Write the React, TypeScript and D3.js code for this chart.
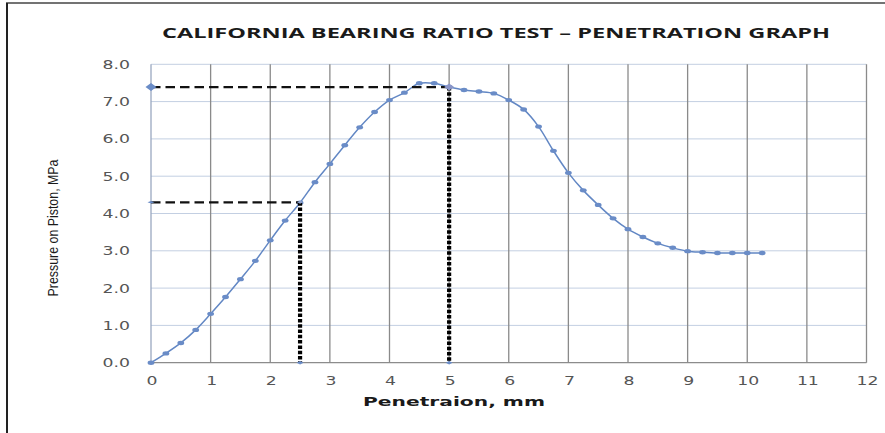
import React from "react";
import * as d3 from "d3";

const penetration = [0, 0.25, 0.5, 0.75, 1.0, 1.25, 1.5, 1.75, 2.0, 2.25, 2.5, 2.75, 3.0, 3.25, 3.5, 3.75, 4.0, 4.25, 4.5, 4.75, 5.0, 5.25, 5.5, 5.75, 6.0, 6.25, 6.5, 6.75, 7.0, 7.25, 7.5, 7.75, 8.0, 8.25, 8.5, 8.75, 9.0, 9.25, 9.5, 9.75, 10.0, 10.25];
const pressure = [0, 0.25, 0.53, 0.88, 1.31, 1.76, 2.24, 2.73, 3.28, 3.81, 4.29, 4.84, 5.33, 5.83, 6.31, 6.72, 7.04, 7.24, 7.49, 7.49, 7.39, 7.31, 7.27, 7.22, 7.04, 6.79, 6.33, 5.68, 5.09, 4.62, 4.23, 3.87, 3.58, 3.37, 3.2, 3.08, 2.99, 2.96, 2.94, 2.94, 2.94, 2.94];

const refPenetration = [2.5, 5.0];
const refPressure = [4.3, 7.39];

const xTicks = [0, 1, 2, 3, 4, 5, 6, 7, 8, 9, 10, 11, 12];
const yTicks = [0, 1, 2, 3, 4, 5, 6, 7, 8];

const title = "CALIFORNIA BEARING RATIO TEST \u2013 PENETRATION GRAPH";
const xTitle = "Penetraion, mm";
const yTitle = "Pressure on Piston, MPa";

const W = 885;
const H = 433;

export default function App() {
  const x = d3.scaleLinear().domain([0, 12]).range([151, 866.5]);
  const y = d3.scaleLinear().domain([0, 8]).range([362.7, 64.3]);

  const data = penetration.map((p, i) => [p, pressure[i]] as [number, number]);
  const line = d3
    .line<[number, number]>()
    .x((d) => x(d[0]))
    .y((d) => y(d[1]))
    .curve(d3.curveCatmullRom.alpha(0.5));

  const blue = "#6287c4";
  const markerColor = "#6a8cc7";

  const diamond = (cx: number, cy: number, w: number, h: number) =>
    `M${cx - w / 2},${cy} L${cx},${cy - h / 2} L${cx + w / 2},${cy} L${cx},${cy + h / 2} Z`;

  return (
    <svg
      width={W}
      height={H}
      style={{ position: "absolute", left: 0, top: 0, background: "#fff" }}
    >
      <rect x={0} y={0} width={W} height={H} fill="#fff" />
      {/* outer frame: top and left */}
      <line x1={6} y1={3} x2={W} y2={3} stroke="#444" strokeWidth={1.5} />
      <line x1={7} y1={3} x2={7} y2={H} stroke="#222" strokeWidth={2} />

      {/* title */}
      <text
        x={496}
        y={38}
        textAnchor="middle"
        fontFamily="'Open Sans', 'DejaVu Sans', sans-serif"
        fontWeight="bold"
        fontSize={14}
        fill="#1a1a1a"
        textLength={668}
        lengthAdjust="spacingAndGlyphs"
      >
        {title}
      </text>

      {/* horizontal gridlines */}
      {yTicks.map((t) => (
        <line
          key={"h" + t}
          x1={x(0)}
          x2={x(12)}
          y1={y(t)}
          y2={y(t)}
          stroke={t === 0 ? "#8c8c8c" : "#c3cfe2"}
          strokeWidth={t === 0 ? 1.3 : 1}
        />
      ))}
      {/* vertical gridlines */}
      {xTicks.map((t) => (
        <line
          key={"v" + t}
          x1={x(t)}
          x2={x(t)}
          y1={y(8)}
          y2={y(0)}
          stroke={t === 0 ? "#9aa8c0" : "#8a8a8a"}
          strokeWidth={1.3}
        />
      ))}

      {/* y tick labels */}
      {yTicks.map((t) => (
        <text
          key={"yl" + t}
          transform={`translate(130,${y(t) + 4.5}) scale(1.38,1)`}
          textAnchor="end"
          fontFamily="'DejaVu Sans', sans-serif"
          fontSize={12.5}
          fill="#555"
        >
          {t.toFixed(1)}
        </text>
      ))}
      {/* x tick labels */}
      {xTicks.map((t) => (
        <text
          key={"xl" + t}
          transform={`translate(${x(t) + 1},${384.5}) scale(1.38,1)`}
          textAnchor="middle"
          fontFamily="'DejaVu Sans', sans-serif"
          fontSize={12.5}
          fill="#555"
        >
          {t}
        </text>
      ))}

      {/* axis titles */}
      <text
        x={454}
        y={406}
        textAnchor="middle"
        fontFamily="'DejaVu Sans', sans-serif"
        fontWeight="bold"
        fontSize={13}
        fill="#1a1a1a"
        textLength={182}
        lengthAdjust="spacingAndGlyphs"
      >
        {xTitle}
      </text>
      <text
        transform={`translate(58,228) rotate(-90)`}
        textAnchor="middle"
        fontFamily="'Liberation Sans Narrow', 'Liberation Sans', sans-serif"
        fontSize={15.5}
        fill="#1a1a1a"
        textLength={137}
        lengthAdjust="spacingAndGlyphs"
      >
        {yTitle}
      </text>

      {/* curve */}
      <path d={line(data) || ""} fill="none" stroke={blue} strokeWidth={1.5} />
      {data.map((d, i) => (
        <ellipse
          key={"m" + i}
          cx={x(d[0])}
          cy={y(d[1])}
          rx={3.4}
          ry={2.2}
          fill={markerColor}
        />
      ))}

      {/* reference lines */}
      {refPenetration.map((p, i) => (
        <g key={"ref" + i}>
          <line
            x1={x(0)}
            x2={x(p)}
            y1={y(refPressure[i])}
            y2={y(refPressure[i])}
            stroke="#111"
            strokeWidth={2.2}
            strokeDasharray="9.5,5"
          />
          <line
            x1={x(p)}
            x2={x(p)}
            y1={y(refPressure[i])}
            y2={y(0)}
            stroke="#000"
            strokeWidth={4.2}
            strokeDasharray="3.5,1.8"
          />
          <path
            d={diamond(x(0), y(refPressure[i]), i === 1 ? 11 : 7, i === 1 ? 8 : 2.5)}
            fill={markerColor}
          />
          <path
            d={diamond(x(p), y(refPressure[i]), i === 1 ? 10 : 6, i === 1 ? 7 : 3)}
            fill={i === 1 ? "#8a95c8" : "#8fa3cf"}
          />
          <path d={diamond(x(p), y(0), 7, 3.5)} fill={markerColor} />
        </g>
      ))}
    </svg>
  );
}
